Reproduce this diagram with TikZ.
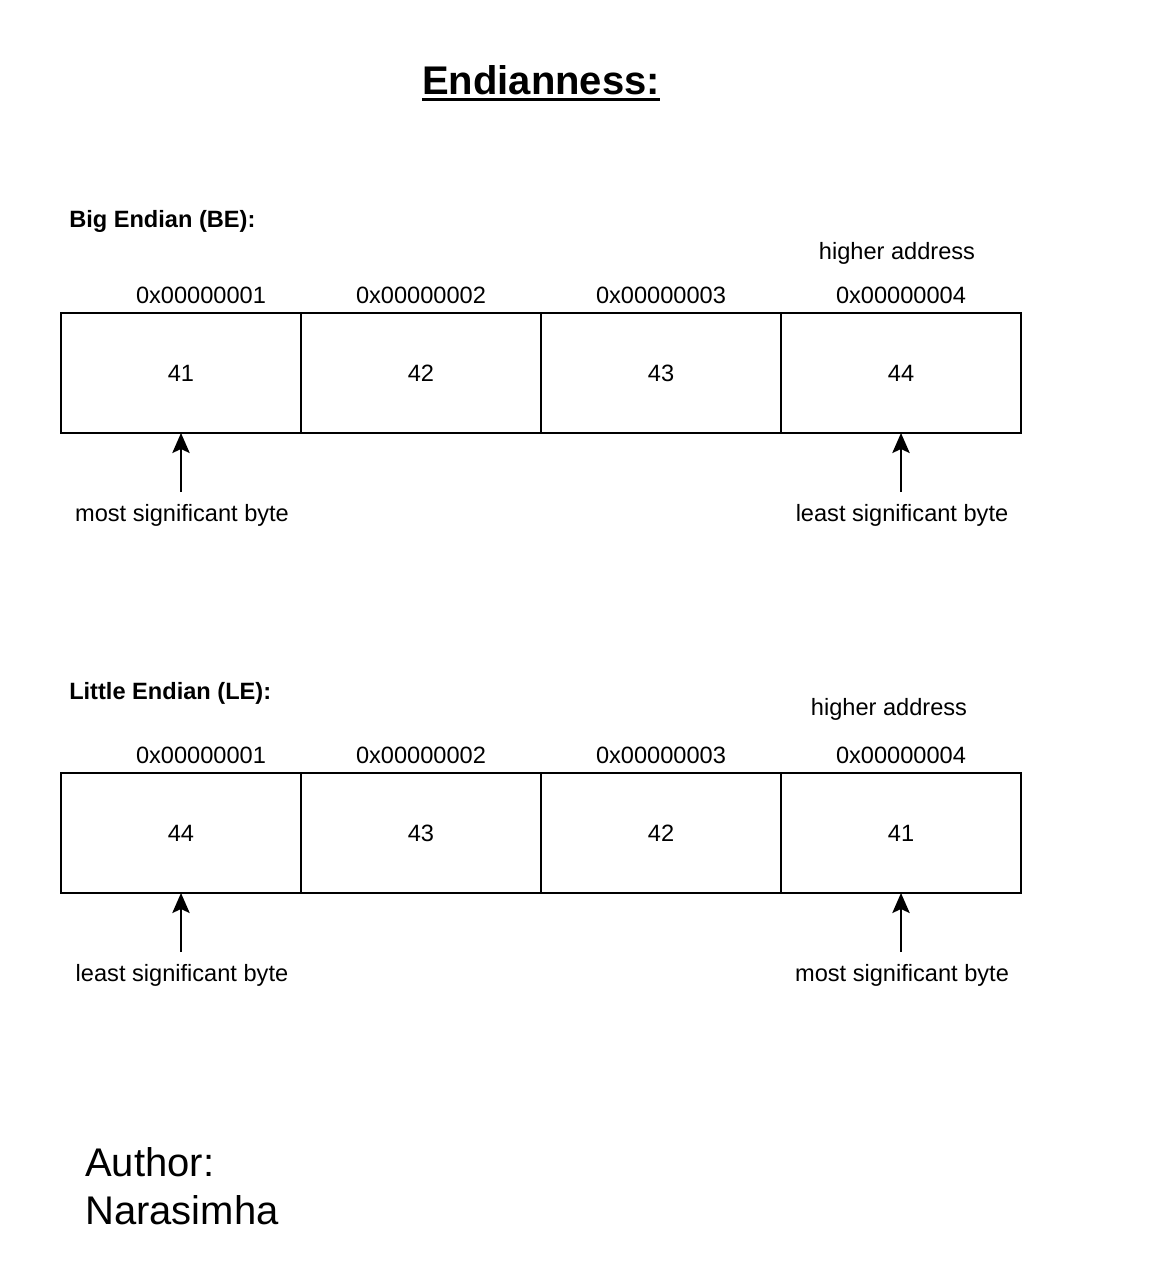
\documentclass[tikz,border=0pt]{standalone}
\usepackage{fontspec}
\setmainfont{Liberation Sans}
\usetikzlibrary{arrows.meta}
\begin{document}
\begin{tikzpicture}[x=0.75pt,y=-0.75pt,
  cell/.style={draw,line width=1.5pt,minimum width=180pt,minimum height=90pt,inner sep=0pt,outer sep=0pt,anchor=north west,font=\fontsize{17.7}{21}\selectfont},
  lbl/.style={inner sep=0pt,font=\fontsize{17.7}{21}\selectfont},
  hdr/.style={inner sep=0pt,anchor=west,font=\fontsize{17.7}{21}\selectfont\bfseries},
  ptr/.style={line width=1.5pt,-{Stealth[length=15pt,width=13pt,inset=3pt]}},
  big/.style={inner sep=0pt,anchor=base west,font=\fontsize{30}{36}\selectfont}]
\useasboundingbox (0,0) rectangle (1166,1286);
% title
\node[inner sep=0pt,anchor=base,font=\fontsize{30}{36}\selectfont\bfseries] (title) at (541,94) {Endianness:};
\draw[line width=2.2pt] (title.base west) ++(0,5.5) coordinate (ul1) -- (ul1 -| title.base east);
% Big endian
\node[hdr] (behdr) at (69,221) {Big Endian (BE):};
\node[lbl] (beha) at (897,253) {higher address};
\foreach \i/\x/\v/\ax in {1/61/41/201,2/301/42/421,3/541/43/661,4/781/44/901}{
  \node[cell] (be\i) at (\x,313) {\v};
  \node[lbl] (bea\i) at (\ax,295) {0x0000000\i};
}
\coordinate (bep1) at (181,492);
\coordinate (bep4) at (901,492);
\draw[ptr] (bep1) -- (bep1 |- be1.south);
\draw[ptr] (bep4) -- (bep4 |- be4.south);
\node[lbl] (bemsb) at (182,515) {most significant byte};
\node[lbl] (belsb) at (902,515) {least significant byte};
% Little endian
\node[hdr] (lehdr) at (69,693) {Little Endian (LE):};
\node[lbl] (leha) at (889,709) {higher address};
\foreach \i/\x/\v/\ax in {1/61/44/201,2/301/43/421,3/541/42/661,4/781/41/901}{
  \node[cell] (le\i) at (\x,773) {\v};
  \node[lbl] (lea\i) at (\ax,755) {0x0000000\i};
}
\coordinate (lep1) at (181,952);
\coordinate (lep4) at (901,952);
\draw[ptr] (lep1) -- (lep1 |- le1.south);
\draw[ptr] (lep4) -- (lep4 |- le4.south);
\node[lbl] (lelsb) at (182,975) {least significant byte};
\node[lbl] (lemsb) at (902,975) {most significant byte};
% author
\node[big] (auth1) at (85,1176) {Author:};
\node[big] (auth2) at (85,1224) {Narasimha};
\end{tikzpicture}
\end{document}
